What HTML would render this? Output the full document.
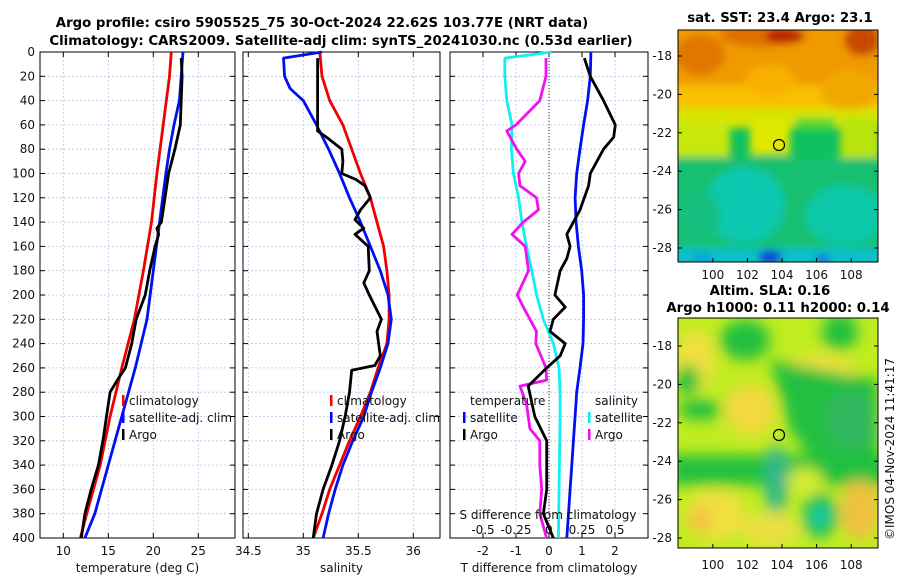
<!DOCTYPE html>
<html><head><meta charset="utf-8">
<style>
body{margin:0;background:#fff;}
svg{display:block;font-family:"DejaVu Sans","Liberation Sans",sans-serif;}
.t{font-size:12px;fill:#111;}
.b{font-weight:bold;font-size:13.3px;fill:#000;}
</style></head>
<body>
<svg id="c" width="900" height="580">
<defs>
<filter id="bl" x="-10%" y="-10%" width="120%" height="120%"><feGaussianBlur stdDeviation="4"/></filter>
<filter id="bl2" x="-10%" y="-10%" width="120%" height="120%"><feGaussianBlur stdDeviation="7"/></filter>
<clipPath id="m1"><rect x="678" y="30" width="200" height="232"/></clipPath>
<clipPath id="m2"><rect x="678" y="318" width="200" height="230"/></clipPath>
</defs>
<text class="b" x="322" y="27" text-anchor="middle">Argo profile: csiro 5905525_75 30-Oct-2024 22.62S 103.77E (NRT data)</text>
<text class="b" x="341" y="45" text-anchor="middle">Climatology: CARS2009. Satellite-adj clim: synTS_20241030.nc (0.53d earlier)</text>

<g>
<g clip-path="url(#m1)">
<rect x="678" y="30" width="200" height="232" fill="#10c060"/>
<g filter="url(#bl)">
<rect x="670" y="20" width="220" height="75" fill="#f09a00"/>
<rect x="670" y="85" width="220" height="30" fill="#f8c000"/>
<rect x="670" y="108" width="220" height="20" fill="#d8e400"/>
<rect x="670" y="122" width="60" height="35" fill="#c8e810"/>
<rect x="750" y="120" width="40" height="35" fill="#e0e800"/>
<rect x="795" y="118" width="40" height="12" fill="#50d830"/>
<rect x="840" y="118" width="40" height="40" fill="#b8e410"/>
<ellipse cx="760" cy="35" rx="40" ry="12" fill="#e07000"/>
<ellipse cx="785" cy="36" rx="20" ry="8" fill="#b82000"/>
<ellipse cx="700" cy="55" rx="25" ry="20" fill="#e07800"/>
<ellipse cx="862" cy="40" rx="18" ry="16" fill="#c84800"/>
<ellipse cx="850" cy="90" rx="30" ry="20" fill="#f0a800"/>
<ellipse cx="770" cy="80" rx="25" ry="15" fill="#f8b000"/>
<rect x="670" y="158" width="220" height="110" fill="#14c070"/>
<ellipse cx="745" cy="205" rx="40" ry="38" fill="#10c8b0"/>
<ellipse cx="845" cy="215" rx="40" ry="30" fill="#10c8a8"/>
<ellipse cx="700" cy="215" rx="20" ry="25" fill="#18c080"/>
<rect x="670" y="248" width="220" height="20" fill="#10c0c8"/>
<ellipse cx="770" cy="257" rx="12" ry="7" fill="#1040d0"/>
<ellipse cx="823" cy="259" rx="8" ry="4" fill="#1060e0"/>
<ellipse cx="702" cy="258" rx="10" ry="4" fill="#1090e0"/>
</g>
</g>
<rect x="678" y="30" width="200" height="232" fill="none" stroke="#000" stroke-width="1"/>
<text class="b" x="780" y="22" text-anchor="middle">sat. SST: 23.4 Argo: 23.1</text>
<circle cx="779" cy="145" r="5.5" fill="none" stroke="#000" stroke-width="1.2"/>
</g>

<g>
<g clip-path="url(#m2)">
<rect x="678" y="318" width="200" height="230" fill="#c0ec20"/>
<g filter="url(#bl2)">
<ellipse cx="745" cy="340" rx="25" ry="20" fill="#20c040"/>
<ellipse cx="840" cy="332" rx="18" ry="18" fill="#20c040"/>
<ellipse cx="695" cy="360" rx="20" ry="30" fill="#f0e040"/>
<ellipse cx="820" cy="370" rx="35" ry="15" fill="#f0e040"/>
<path d="M770 360 L878 380 L878 460 L820 470 L790 430 Z" fill="#20c040"/>
<ellipse cx="850" cy="420" rx="25" ry="30" fill="#30b860"/>
<ellipse cx="688" cy="380" rx="12" ry="15" fill="#20c040"/>
<ellipse cx="700" cy="410" rx="22" ry="10" fill="#20c040"/>
<ellipse cx="750" cy="410" rx="25" ry="25" fill="#f4d840"/>
<rect x="670" y="455" width="220" height="30" fill="#20c040"/>
<ellipse cx="776" cy="480" rx="12" ry="35" fill="#30b888"/>
<ellipse cx="715" cy="515" rx="30" ry="25" fill="#f0e040"/>
<ellipse cx="700" cy="520" rx="12" ry="12" fill="#f4c040"/>
<ellipse cx="820" cy="516" rx="18" ry="22" fill="#20c060"/>
<ellipse cx="820" cy="516" rx="7" ry="8" fill="#10d0c0"/>
<ellipse cx="860" cy="510" rx="20" ry="30" fill="#f0c040"/>
<ellipse cx="770" cy="530" rx="30" ry="18" fill="#e8e040"/>
<ellipse cx="805" cy="480" rx="18" ry="12" fill="#d8ec30"/>
</g>
</g>
<rect x="678" y="318" width="200" height="230" fill="none" stroke="#000" stroke-width="1"/>
<text class="b" x="770" y="295" text-anchor="middle">Altim. SLA: 0.16</text>
<text class="b" x="778" y="312" text-anchor="middle">Argo h1000: 0.11 h2000: 0.14</text>
<circle cx="779" cy="435" r="5.5" fill="none" stroke="#000" stroke-width="1.2"/>
<text class="t" x="0" y="0" transform="translate(894,540) rotate(-90)">©IMOS 04-Nov-2024 11:41:17</text>
</g>
<g id="plots"></g>
</svg>
<script>
var NS="http://www.w3.org/2000/svg";
var root=document.getElementById('plots');
// ---- data ----
var climTDepth=[0,20,60,100,140,180,220,260,300,340,380,400];
var climT=[22.0,21.8,21.1,20.4,19.8,18.9,17.9,16.5,15.2,14.1,12.6,11.9];
var satTDepth=[0,20,40,60,80,100,140,180,220,260,300,340,380,400];
var satT=[23.3,23.1,22.9,22.3,21.8,21.4,20.7,20.0,19.3,18.0,16.5,15.0,13.5,12.4];
var argoTDepth=[5,20,40,60,80,100,120,140,145,150,160,180,200,220,240,260,270,280,300,320,340,360,380,400];
var argoT=[23.1,23.2,23.1,23.0,22.4,21.7,21.3,20.9,20.4,20.6,20.2,19.6,19.1,18.1,17.6,16.9,16.0,15.2,14.8,14.4,13.9,13.1,12.4,12.0];
var climSDepth=[0,20,40,60,80,100,120,140,160,180,200,220,240,260,280,300,320,340,360,380,400];
var climS=[35.15,35.17,35.24,35.36,35.44,35.52,35.61,35.67,35.73,35.76,35.78,35.78,35.76,35.68,35.61,35.52,35.42,35.33,35.24,35.17,35.09];
var satSDepth=[0,5,20,30,40,60,80,100,120,140,160,180,200,220,240,260,280,300,320,340,360,380,400];
var satS=[35.17,34.82,34.83,34.88,35.0,35.12,35.23,35.33,35.42,35.52,35.61,35.70,35.77,35.80,35.77,35.70,35.62,35.55,35.45,35.36,35.29,35.23,35.18];
var argoSDepth=[5,20,40,65,70,80,90,100,105,110,120,130,138,145,150,160,180,190,200,220,230,250,258,262,280,300,320,340,360,380,400];
var argoS=[35.13,35.13,35.13,35.13,35.21,35.35,35.36,35.35,35.48,35.56,35.61,35.52,35.47,35.55,35.47,35.59,35.60,35.55,35.60,35.71,35.67,35.70,35.65,35.44,35.42,35.38,35.33,35.26,35.18,35.12,35.09];
var satSDiffDepth=[0,5,20,40,60,80,100,120,140,160,180,200,220,240,260,280,300,400];
var satSDiff=[0.02,-0.335,-0.335,-0.32,-0.28,-0.285,-0.27,-0.23,-0.205,-0.17,-0.13,-0.094,-0.043,0.033,0.076,0.084,0.084,0.071];
var argoSDiffDepth=[5,20,40,60,65,80,90,100,110,120,130,140,150,160,180,200,210,230,240,260,270,275,290,310,320,340,360,380,400];
var argoSDiff=[-0.023,-0.023,-0.07,-0.25,-0.32,-0.245,-0.18,-0.23,-0.22,-0.095,-0.08,-0.195,-0.28,-0.18,-0.155,-0.24,-0.195,-0.095,-0.1,-0.023,-0.018,-0.22,-0.17,-0.145,-0.07,-0.07,-0.055,-0.07,-0.018];
var satTDiffDepth=[0,20,40,60,80,100,120,140,160,180,200,220,240,260,280,300,320,340,360,380,400];
var satTDiff=[1.27,1.25,1.17,1.05,0.94,0.84,0.79,0.82,0.89,0.99,1.05,1.05,1.03,0.94,0.84,0.79,0.74,0.69,0.64,0.59,0.54];
var argoTDiffDepth=[5,20,40,60,70,80,100,110,130,140,150,160,170,180,200,210,220,230,240,250,260,275,300,320,340,360,380,400];
var argoTDiff=[1.07,1.25,1.65,2.01,1.96,1.65,1.25,1.2,0.94,0.74,0.54,0.64,0.54,0.34,0.18,0.49,0.13,0.03,0.49,0.34,-0.07,-0.63,-0.43,-0.07,-0.07,-0.07,-0.17,0.13];
var depthTicks=[0,20,40,60,80,100,120,140,160,180,200,220,240,260,280,300,320,340,360,380,400];
var tTicks=[10,15,20,25];
var sTicks=[34.5,35,35.5,36];
var dTTicks=[-2,-1,0,1,2];
var dSTickLabels=["-0.5","-0.25","0","0.25","0.5"];
// ---- axes ----
var Y0=52,Y1=538;
function yD(d){return Y0+d*(Y1-Y0)/400;}
function xT(v){return 63.3+(v-10)*9;}
function xS(v){return 248.3+(v-34.5)*110;}
function xDT(v){return 549+v*33;}
function xDS(v){return 549+v*132;}
function el(tag,attrs,parent){var e=document.createElementNS(NS,tag);for(var k in attrs)e.setAttribute(k,attrs[k]);(parent||root).appendChild(e);return e;}
function panel(x0,x1,name,ticks,xf,labels,xlabel){
  var g=el('g',{});
  
  
  depthTicks.forEach(function(d){
    var l=el('line',{x1:x0,x2:x1,y1:yD(d),y2:yD(d),stroke:'#b8c4ec','stroke-width':0.8,'stroke-dasharray':'2,2'},g);
    
    
    el('line',{x1:x0,x2:x0+5,y1:yD(d),y2:yD(d),stroke:'#000'},g);
    el('line',{x1:x1-5,x2:x1,y1:yD(d),y2:yD(d),stroke:'#000'},g);
  });
  ticks.forEach(function(v,i){
    var x=xf(v);
    var l=el('line',{x1:x,x2:x,y1:Y0,y2:Y1,stroke:'#b8c4ec','stroke-width':0.8,'stroke-dasharray':'2,2'},g);
    
    
    el('line',{x1:x,x2:x,y1:Y1-5,y2:Y1,stroke:'#000'},g);
    el('line',{x1:x,x2:x,y1:Y0,y2:Y0+5,stroke:'#000'},g);
    var t=el('text',{x:x,y:555,'text-anchor':'middle','class':'t'},g);
    t.textContent=labels[i];
    
    
  });
  el('rect',{x:x0,y:Y0,width:x1-x0,height:Y1-Y0,fill:'none',stroke:'#000','stroke-width':1},g);
  var xl=el('text',{x:(x0+x1)/2,y:572,'text-anchor':'middle','class':'t'},g);
  xl.textContent=xlabel;
  
  
  return g;
}
function series(depths,vals,xf,color,name,g){
  var p=depths.map(function(d,i){return xf(vals[i]).toFixed(1)+','+yD(d).toFixed(1);}).join(' ');
  var pl=el('polyline',{points:p,fill:'none',stroke:color,'stroke-width':2.8,'stroke-linejoin':'round'},g);
  
  
}
function legend(g,x,y,items){
  items.forEach(function(it,i){
    var yy=y+i*17;
    el('rect',{x:x,y:yy-10,width:2.5,height:11,fill:it[1]},g);
    var t=el('text',{x:x+7,y:yy,'class':'t'},g);
    t.textContent=it[0];
    
    
  });
}
depthTicks.forEach(function(d){
  var t=el('text',{x:35,y:yD(d)+4,'text-anchor':'end','class':'t'});
  t.textContent=d;
  
  
});
var g1=panel(40,235,'temperature-panel',tTicks,xT,tTicks.map(String),'temperature (deg C)');
series(climTDepth,climT,xT,'#f00000','climatology-temperature',g1);
series(satTDepth,satT,xT,'#0010f0','satellite-temperature',g1);
series(argoTDepth,argoT,xT,'#000','argo-temperature',g1);
legend(g1,122,405,[['climatology','#f00'],['satellite-adj. clim','#00f'],['Argo','#000']]);
var g2=panel(243,440,'salinity-panel',sTicks,xS,sTicks.map(String),'salinity');
series(climSDepth,climS,xS,'#f00000','climatology-salinity',g2);
series(satSDepth,satS,xS,'#0010f0','satellite-salinity',g2);
series(argoSDepth,argoS,xS,'#000','argo-salinity',g2);
legend(g2,330,405,[['climatology','#f00'],['satellite-adj. clim','#00f'],['Argo','#000']]);
var g3=panel(450,648,'difference-panel',dTTicks,xDT,dTTicks.map(String),'T difference from climatology');
var z=el('line',{x1:549,x2:549,y1:Y0,y2:Y1,stroke:'#333','stroke-width':1,'stroke-dasharray':'1,2'},g3);


series(satSDiffDepth,satSDiff,xDS,'#10f0f0','satellite-salinity-diff',g3);
series(argoSDiffDepth,argoSDiff,xDS,'#f010f0','argo-salinity-diff',g3);
series(satTDiffDepth,satTDiff,xDT,'#0010f0','satellite-temperature-diff',g3);
series(argoTDiffDepth,argoTDiff,xDT,'#000','argo-temperature-diff',g3);
var lt=el('text',{x:470,y:405,'class':'t'},g3);lt.textContent='temperature';


var ls=el('text',{x:595,y:405,'class':'t'},g3);ls.textContent='salinity';


legend(g3,463,422,[['satellite','#00f'],['Argo','#000']]);
legend(g3,588,422,[['satellite','#0ee'],['Argo','#f0f']]);
var st=el('text',{x:548,y:519,'text-anchor':'middle','class':'t'},g3);
st.textContent='S difference from climatology';


[-0.5,-0.25,0,0.25,0.5].forEach(function(v,i){
  var t=el('text',{x:xDS(v),y:534,'text-anchor':'middle','class':'t'},g3);
  t.textContent=dSTickLabels[i];
  
  
});
var lonTicks=[100,102,104,106,108],latTicks=[-18,-20,-22,-24,-26,-28];
function xLon(v){return 782+(v-104)*17.3;}
[[30,262,56,275],[318,548,346,565]].forEach(function(m){
  lonTicks.forEach(function(v){
    var x=xLon(v);
    el('line',{x1:x,x2:x,y1:m[1]-4,y2:m[1],stroke:'#000'});
    var t=el('text',{x:x,y:m[3]+4,'text-anchor':'middle','class':'t'});
    t.textContent=v;
    
    
  });
  latTicks.forEach(function(v){
    var y=m[2]+(-18-v)*19.2;
    el('line',{x1:874,x2:878,y1:y,y2:y,stroke:'#000'});
    el('line',{x1:678,x2:682,y1:y,y2:y,stroke:'#000'});
    var t=el('text',{x:672,y:y+4,'text-anchor':'end','class':'t'});
    t.textContent=v;
    
    
  });
});
</script>
</body></html>
